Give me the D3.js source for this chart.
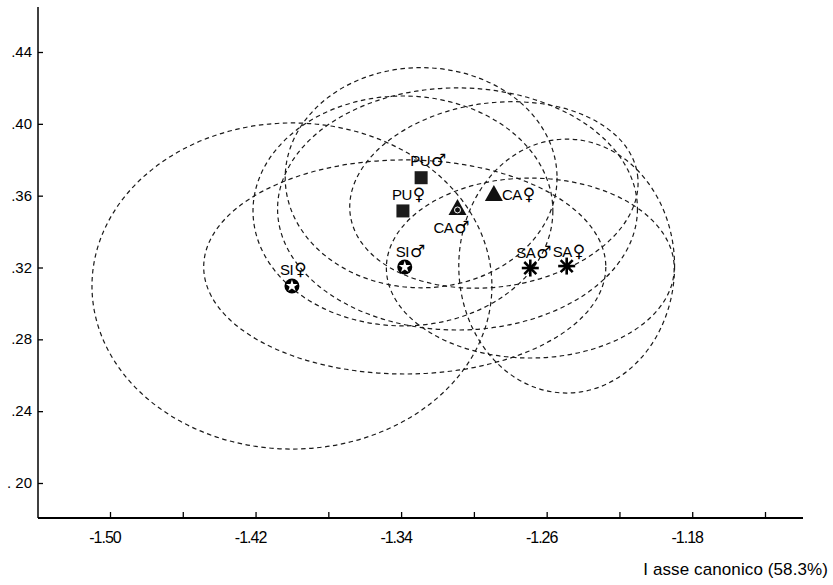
<!DOCTYPE html>
<html>
<head>
<meta charset="utf-8">
<script src="https://cdn.jsdelivr.net/npm/d3@7"></script>
<style>
  body { margin: 0; background: #fff; }
  svg { display: block; }
</style>
</head>
<body>
<div class="container"></div>
<script>
// dati (I e II asse canonico)
const gruppi = ["PU♂", "PU♀", "CA♂", "CA♀", "SI♂", "SI♀", "SA♂", "SA♀"]
const simboli = ["square", "square", "triangle", "triangle", "star", "star", "asterisk", "asterisk"]
const asseI = [-1.329, -1.339, -1.309, -1.289, -1.338, -1.400, -1.269, -1.249]
const asseII = [0.370, 0.3515, 0.3526, 0.3604, 0.3203, 0.3097, 0.3197, 0.3208]

// semiassi delle ellissi (unità dei dati) e rotazione
const semiX = [0.0747, 0.0824, 0.0989, 0.0797, 0.1105, 0.1099, 0.0791, 0.0593]
const semiY = [0.0613, 0.0640, 0.0674, 0.0512, 0.0596, 0.0908, 0.0501, 0.0707]
const rotazione = [0, 0, 0, -8, 0, 0, 0, 0]

const xTicks = [-1.50, -1.46, -1.42, -1.38, -1.34, -1.30, -1.26, -1.22, -1.18, -1.14]
const xLabels = ["-1.50", "", "-1.42", "", "-1.34", "", "-1.26", "", "-1.18", ""]
const yTicks = [0.20, 0.24, 0.28, 0.32, 0.36, 0.40, 0.44]
const yLabels = [". 20", ".24", ".28", ".32", ".36", ".40", ".44"]
const titoloX = "I asse canonico (58.3%)"

const W = 833, H = 585

const svg = d3.select(".container")
    .append("svg")
    .attr("width", W)
    .attr("height", H)

const x = d3.scaleLinear().domain([-1.50, -1.14]).range([110, 765])
const y = d3.scaleLinear().domain([0.20, 0.44]).range([483, 52])

const asse = { left: 38, bottom: 518, top: 7, right: 803 }

// ellissi tratteggiate
svg.append("g")
    .selectAll("ellipse")
    .data(gruppi)
    .join("ellipse")
    .attr("rx", (_, i) => x(asseI[i] + semiX[i]) - x(asseI[i]))
    .attr("ry", (_, i) => y(asseII[i]) - y(asseII[i] + semiY[i]))
    .attr("transform", (_, i) => `translate(${x(asseI[i])} ${y(asseII[i])}) rotate(${rotazione[i]})`)
    .attr("fill", "none")
    .attr("stroke", "#1a1a1a")
    .attr("stroke-width", 1.2)
    .attr("stroke-dasharray", "4.5,3.5")

// assi
const gx = svg.append("g")
    .attr("transform", `translate(0 ${asse.bottom})`)
    .call(d3.axisBottom(x).tickValues(xTicks).tickSize(-6).tickFormat(""))
gx.select(".domain").remove()
gx.selectAll("line").attr("stroke", "#000").attr("stroke-width", 1.3)

const gy = svg.append("g")
    .attr("transform", `translate(${asse.left} 0)`)
    .call(d3.axisLeft(y).tickValues(yTicks).tickSize(-5).tickFormat(""))
gy.select(".domain").remove()
gy.selectAll("line").attr("stroke", "#000").attr("stroke-width", 1.3)

svg.append("line")
    .attr("x1", asse.left).attr("x2", asse.right)
    .attr("y1", asse.bottom).attr("y2", asse.bottom)
    .attr("stroke", "#000").attr("stroke-width", 1.8)
svg.append("line")
    .attr("x1", asse.left).attr("x2", asse.left)
    .attr("y1", asse.top).attr("y2", asse.bottom)
    .attr("stroke", "#000").attr("stroke-width", 1.5)

svg.append("g")
    .selectAll("text")
    .data(xTicks)
    .join("text")
    .attr("x", d => x(d) - 5)
    .attr("y", 543)
    .attr("text-anchor", "middle")
    .style("font-family", "Liberation Sans, Arial, sans-serif")
    .style("font-size", "16px")
    .style("letter-spacing", "-1px")
    .text((_, i) => xLabels[i])

svg.append("g")
    .selectAll("text")
    .data(yTicks)
    .join("text")
    .attr("x", 32)
    .attr("y", d => y(d) + 5)
    .attr("text-anchor", "end")
    .style("font-family", "Liberation Sans, Arial, sans-serif")
    .style("font-size", "15px")
    .text((_, i) => yLabels[i])

svg.append("text")
    .attr("x", 828)
    .attr("y", 575)
    .attr("text-anchor", "end")
    .style("font-family", "Liberation Sans, Arial, sans-serif")
    .style("font-size", "17px")
    .style("letter-spacing", "0.1px")
    .text(titoloX)

// simboli dei gruppi
const punti = svg.append("g")
gruppi.forEach((g, i) => {
    const cx = x(asseI[i]), cy = y(asseII[i])
    const s = simboli[i]
    if (s == "square") {
        punti.append("rect")
            .attr("x", cx - 6.5).attr("y", cy - 6.5)
            .attr("width", 13).attr("height", 13)
            .attr("fill", "#1c1c1c")
    } else if (s == "triangle") {
        punti.append("path")
            .attr("d", `M${cx},${cy - 10} L${cx + 9},${cy + 6} L${cx - 9},${cy + 6} Z`)
            .attr("fill", "#111")
        if (g == "CA♂") {
            punti.append("circle")
                .attr("cx", cx).attr("cy", cy + 1).attr("r", 3)
                .attr("fill", "none").attr("stroke", "#fff").attr("stroke-width", 1)
        }
    } else if (s == "star") {
        punti.append("circle")
            .attr("cx", cx).attr("cy", cy).attr("r", 7.5)
            .attr("fill", "#000")
        punti.append("path")
            .attr("d", d3.symbol(d3.symbolStar, 45)())
            .attr("transform", `translate(${cx} ${cy})`)
            .attr("fill", "#fff")
    } else {
        punti.append("g")
            .attr("transform", `translate(${cx} ${cy})`)
            .selectAll("line")
            .data([0, 45, 90, 135])
            .join("line")
            .attr("x1", 0).attr("y1", -8.5).attr("x2", 0).attr("y2", 8.5)
            .attr("transform", d => `rotate(${d})`)
            .attr("stroke", "#000")
            .attr("stroke-width", 2.6)
    }
})

// etichette: sigla + simbolo del sesso più grande
const offEtichette = [[-11, -12], [-11, -11], [-24, 24], [8, 5], [-9, -10], [-12, -11], [-14, -10], [-14, -9]]
const etichette = svg.append("g")
    .selectAll("text")
    .data(gruppi)
    .join("text")
    .attr("x", (_, i) => x(asseI[i]) + offEtichette[i][0])
    .attr("y", (_, i) => y(asseII[i]) + offEtichette[i][1])
    .style("font-family", "Liberation Sans, Arial, sans-serif")
    .style("font-size", "15px")
    .attr("fill", "#000")
etichette.append("tspan")
    .style("letter-spacing", "-0.5px")
    .text(d => d.slice(0, 2))
etichette.append("tspan")
    .attr("dx", 1)
    .style("font-family", "DejaVu Sans, sans-serif")
    .style("font-size", "17px")
    .style("font-weight", "bold")
    .text(d => d.slice(2))
</script>
</body>
</html>
